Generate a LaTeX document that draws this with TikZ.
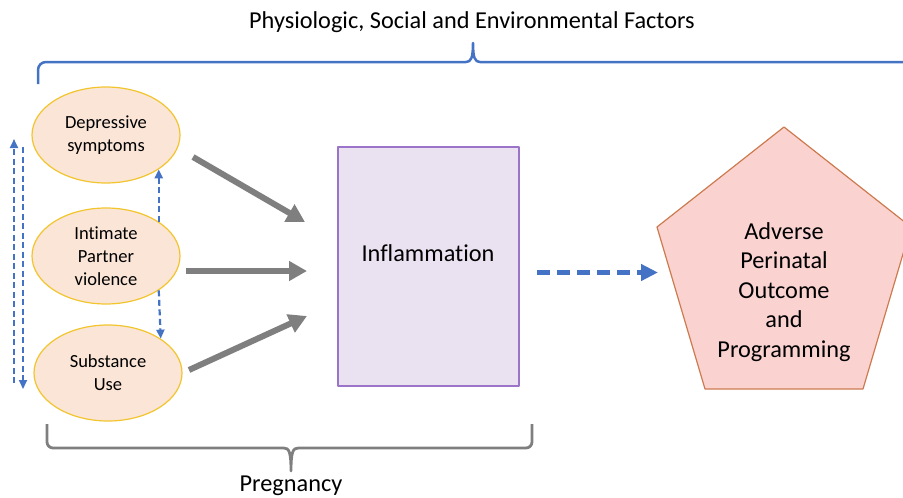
\documentclass[tikz,border=0pt]{standalone}
\usepackage{fontspec}
\setmainfont{Carlito}[Ligatures=NoCommon]
\usetikzlibrary{arrows.meta,shapes.geometric}
\definecolor{brace}{HTML}{4472C4}
\definecolor{greyarr}{HTML}{7F7F7F}
\definecolor{peach}{HTML}{FBE5D6}
\definecolor{gold}{HTML}{F2C52E}
\definecolor{lilac}{HTML}{EAE1F1}
\definecolor{violet}{HTML}{9B74C9}
\definecolor{rose}{HTML}{FAD3D1}
\definecolor{rust}{HTML}{CD7A4E}
\begin{document}
\begin{tikzpicture}[x=1pt,y=-1pt,line join=round]
\tikzset{factor/.style={ellipse,draw=gold,fill=peach,line width=1.2pt,minimum width=148pt,minimum height=96pt,inner sep=0pt,align=center,font=\fontsize{18.5}{23}\selectfont},
	bigtxt/.style={align=center,font=\fontsize{24.3}{29.5}\selectfont},
	push/.style={draw=greyarr,line width=6pt,-{Triangle[length=18pt,width=19pt]}},
	link/.style={draw=brace,line width=2.2pt,dash pattern=on 6pt off 3.5pt,-{Triangle[length=9pt,width=8pt]}},
	lead/.style={draw=brace,line width=5pt,dash pattern=on 13pt off 7pt,-{Triangle[length=17pt,width=16pt]}}}
\useasboundingbox (0,0) rectangle (903,498);
\clip (0,0) rectangle (903,498);
% top brace and title
\draw[brace,line width=2.5pt,rounded corners=8pt] (38,84)--(38,62)--(466,62);
\draw[brace,line width=2.5pt] (466,62) .. controls (471,62) and (473,58) .. (473,43) .. controls (473,58) and (475,62) .. (480,62)--(910,62);
\node[bigtxt] (title) at (472,22) {Physiologic, Social and Environmental Factors};
% factors
\node[factor] (dep) at (106,135) {Depressive\\symptoms};
\node[factor] (ipv) at (106,256) {Intimate\\Partner\\violence};
\node[factor] (sub) at (108,373) {Substance\\Use};
\draw[link] (ipv.north east)--(dep.south east);
\draw[link] (ipv.south east)--(sub.north east);
\coordinate (l1) at (14,383); \coordinate (l2) at (14,139);
\coordinate (r1) at (23,147); \coordinate (r2) at (23,389);
\draw[link] (l1)--(l2);
\draw[link] (r1)--(r2);
% inflammation
\node[draw=violet,fill=lilac,line width=1.2pt,minimum width=181pt,minimum height=239pt] (inf) at (428.5,266.5) {};
\node[bigtxt] (inftxt) at (428,253) {Inflammation};
\coordinate (a1) at (193,157); \coordinate (b1) at (305,222);
\coordinate (a2) at (186,271); \coordinate (b2) at (307,271);
\coordinate (a3) at (189,370); \coordinate (b3) at (307,316);
\foreach \i in {1,2,3}
	\draw[push] (a\i)--(b\i);
% outcome
\draw[draw=rust,fill=rose,line width=1.2pt] (784,127)--(657,227)--(705,389)--(863,389)--(911,227)--cycle;
\node[bigtxt] (out) at (784,292) {Adverse\\Perinatal\\Outcome\\and\\Programming};
\coordinate (from) at (537,272.5); \coordinate (tip) at (658,272.5);
\draw[lead] (from)--(tip);
% bottom brace
\draw[greyarr,line width=2.8pt,rounded corners=6pt] (47,424)--(47,448)--(284,448);
\draw[greyarr,line width=2.8pt,rounded corners=6pt] (298,448)--(532,448)--(532,424);
\draw[greyarr,line width=2.8pt] (284,448) .. controls (289,448) and (291,452) .. (291,471) .. controls (291,452) and (293,448) .. (298,448);
\node[bigtxt] (preg) at (291,486) {Pregnancy};
\end{tikzpicture}
\end{document}
